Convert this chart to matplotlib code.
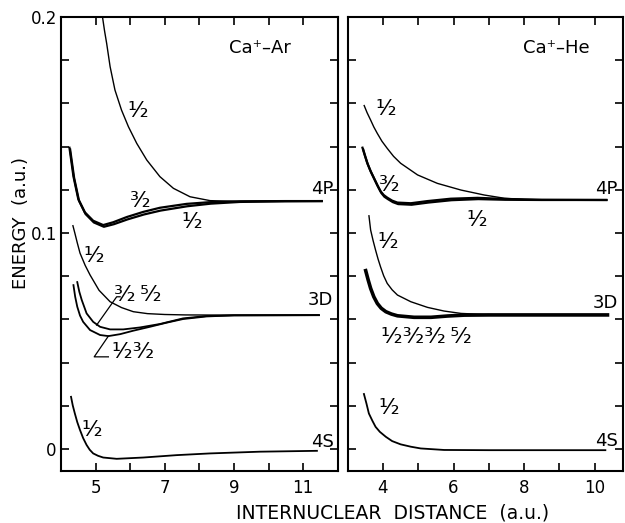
import matplotlib.pyplot as plt

# ---- Ca+ - Ar (left panel) ----
ar_4p_half_x = [5.2, 5.26, 5.32, 5.42, 5.56, 5.75, 5.95, 6.19, 6.48, 6.86, 7.25, 7.73, 8.31, 9.17, 10.5, 11.57]
ar_4p_half_y = [0.200, 0.1935, 0.1878, 0.177, 0.1662, 0.1569, 0.1492, 0.1415, 0.1338, 0.1261, 0.1207, 0.1168, 0.115, 0.1146, 0.1147, 0.1148]

ar_4p_a_x = [4.24, 4.36, 4.5, 4.69, 4.93, 5.22, 5.51, 5.9, 6.38, 6.86, 7.63, 8.31, 9.17, 10.5, 11.57]
ar_4p_a_y = [0.1400, 0.1262, 0.1157, 0.1096, 0.1057, 0.1037, 0.1050, 0.1074, 0.1098, 0.1117, 0.1135, 0.1143, 0.1147, 0.1148, 0.1148]
ar_4p_b_x = [4.26, 4.38, 4.52, 4.71, 4.95, 5.24, 5.53, 5.92, 6.4, 6.88, 7.65, 8.33, 9.17, 10.5, 11.57]
ar_4p_b_y = [0.1392, 0.1255, 0.1150, 0.1088, 0.1049, 0.1029, 0.1041, 0.1063, 0.1086, 0.1104, 0.1124, 0.1136, 0.1144, 0.1147, 0.1148]

ar_3d_half_x = [4.34, 4.4, 4.47, 4.55, 4.7, 4.84, 5.1, 5.42, 5.75, 6.09, 6.5, 7.0, 7.6, 9.0, 11.46]
ar_3d_half_y = [0.1037, 0.1, 0.0955, 0.0907, 0.085, 0.0806, 0.0735, 0.0682, 0.0655, 0.0636, 0.0627, 0.0623, 0.0621, 0.062, 0.062]

ar_3d_a_x = [4.47, 4.53, 4.6, 4.74, 4.93, 5.13, 5.42, 5.8, 6.28, 6.86, 7.53, 8.21, 9.0, 11.46]
ar_3d_a_y = [0.0773, 0.0728, 0.069, 0.0628, 0.0589, 0.0566, 0.0554, 0.0554, 0.0563, 0.0579, 0.0605, 0.0616, 0.0619, 0.062]
ar_3d_b_x = [4.36, 4.41, 4.47, 4.55, 4.64, 4.84, 5.13, 5.37, 5.71, 6.09, 6.57, 7.05, 7.53, 8.21, 9.0, 11.46]
ar_3d_b_y = [0.0759, 0.0705, 0.0659, 0.0618, 0.0589, 0.0551, 0.0528, 0.0523, 0.0532, 0.0548, 0.0566, 0.0585, 0.0602, 0.0614, 0.0619, 0.062]

ar_4s_x = [4.29, 4.34, 4.4, 4.47, 4.55, 4.64, 4.74, 4.83, 4.93, 5.07, 5.22, 5.61, 6.38, 7.34, 8.31, 9.75, 11.4]
ar_4s_y = [0.0242, 0.0202, 0.0165, 0.0125, 0.0088, 0.0051, 0.0019, -0.0003, -0.002, -0.0031, -0.0039, -0.0045, -0.0039, -0.0028, -0.002, -0.0012, -0.0008]

# ---- Ca+ - He (right panel) ----
he_4p_half_x = [3.46, 3.55, 3.65, 3.74, 3.84, 3.97, 4.12, 4.3, 4.5, 4.98, 5.54, 6.21, 6.87, 7.44, 8.0, 9.0, 10.36]
he_4p_half_y = [0.1593, 0.1557, 0.1523, 0.1491, 0.1461, 0.1425, 0.1392, 0.1355, 0.1323, 0.1269, 0.123, 0.1199, 0.1176, 0.1161, 0.1155, 0.1153, 0.1153]

he_4p_a_x = [3.41, 3.48, 3.55, 3.64, 3.74, 3.84, 3.93, 4.02, 4.12, 4.26, 4.41, 4.79, 5.26, 5.92, 6.68, 7.44, 8.5, 10.36]
he_4p_a_y = [0.1400, 0.1362, 0.1326, 0.1290, 0.1256, 0.1222, 0.1194, 0.1176, 0.1164, 0.1150, 0.1141, 0.1138, 0.1148, 0.1159, 0.1163, 0.1158, 0.1154, 0.1153]
he_4p_b_x = [3.43, 3.5, 3.57, 3.66, 3.76, 3.86, 3.95, 4.04, 4.14, 4.28, 4.43, 4.81, 5.28, 5.94, 6.7, 7.46, 8.5, 10.36]
he_4p_b_y = [0.1392, 0.1354, 0.1318, 0.1282, 0.1248, 0.1214, 0.1186, 0.1168, 0.1157, 0.1143, 0.1134, 0.1131, 0.1141, 0.1152, 0.1157, 0.1154, 0.1153, 0.1153]

he_3d_half_x = [3.6, 3.65, 3.72, 3.79, 3.86, 3.93, 4.02, 4.12, 4.26, 4.41, 4.79, 5.26, 5.73, 6.21, 6.87, 7.5, 10.36]
he_3d_half_y = [0.1083, 0.1014, 0.0965, 0.0921, 0.088, 0.0844, 0.0802, 0.0767, 0.0737, 0.0713, 0.0682, 0.0656, 0.0639, 0.0628, 0.0623, 0.0621, 0.0621]

he_3d_x = [3.51, 3.58, 3.65, 3.74, 3.84, 3.95, 4.08, 4.24, 4.41, 4.88, 5.36, 5.83, 6.3, 7.0, 10.36]
he_3d_y = [0.0826, 0.0783, 0.0744, 0.0705, 0.0674, 0.0652, 0.0636, 0.0625, 0.0617, 0.061, 0.061, 0.0616, 0.062, 0.0621, 0.0621]

he_4s_x = [3.46, 3.53, 3.6, 3.7, 3.79, 3.91, 4.08, 4.26, 4.5, 4.79, 5.07, 5.73, 7.0, 10.3]
he_4s_y = [0.0255, 0.0212, 0.0165, 0.0131, 0.0103, 0.008, 0.0057, 0.0037, 0.0022, 0.0011, 0.0003, -0.0004, -0.0005, -0.0005]

HALF = "\u00b9\u2044\u2082"
THREE = "\u00b3\u2044\u2082"
FIVE = "\u2075\u2044\u2082"

plt.rcParams['font.family'] = ['DejaVu Sans']

fig = plt.figure(figsize=(6.25, 5.23), dpi=100)
ax1 = fig.add_axes([0.0976, 0.1, 0.4427, 0.8675])
ax2 = fig.add_axes([0.5563, 0.1, 0.4405, 0.8675])

thin = dict(color='black', lw=1.0, solid_capstyle='butt')
thick = dict(color='black', lw=1.6, solid_capstyle='butt')

for ax in (ax1, ax2):
    ax.set_ylim(-0.01, 0.2)
    ax.set_yticks([0, 0.02, 0.04, 0.06, 0.08, 0.1, 0.12, 0.14, 0.16, 0.18, 0.2])
    ax.tick_params(direction='in', length=6, width=1.2, top=True, right=True,
                   labelsize=12, pad=6)
    for s in ax.spines.values():
        s.set_linewidth(1.5)

# left panel
ax1.set_xlim(4, 12)
ax1.set_xticks([5, 6, 7, 8, 9, 10, 11])
ax1.set_xticklabels(['5', '', '7', '', '9', '', '11'])
ax1.set_yticklabels(['0', '', '', '', '', '0.1', '', '', '', '', '0.2'])
ax1.tick_params(axis='y', pad=3)

ax1.plot(ar_4p_half_x, ar_4p_half_y, **thin)
ax1.plot(ar_4p_a_x, ar_4p_a_y, **thick)
ax1.plot(ar_4p_b_x, ar_4p_b_y, **thick)
ax1.plot(ar_3d_half_x, ar_3d_half_y, **thin)
ax1.plot(ar_3d_a_x, ar_3d_a_y, color='black', lw=1.3)
ax1.plot(ar_3d_b_x, ar_3d_b_y, color='black', lw=1.3)
ax1.plot(ar_4s_x, ar_4s_y, color='black', lw=1.3)
# leader lines
ax1.plot([5.03, 5.61, 5.71], [0.0574, 0.0705, 0.0705], color='black', lw=0.9)
ax1.plot([5.37, 4.96, 5.37], [0.0523, 0.0427, 0.0427], color='black', lw=0.9)

fs = 16
ax1.text(6.23, 0.1565, HALF, fontsize=fs, ha='center', va='center')
ax1.text(6.31, 0.1148, THREE, fontsize=fs, ha='center', va='center')
ax1.text(7.79, 0.105, HALF, fontsize=fs, ha='center', va='center')
ax1.text(4.95, 0.0894, HALF, fontsize=fs, ha='center', va='center')
ax1.text(6.23, 0.0713, THREE + "\u2009" + FIVE, fontsize=fs, ha='center', va='center')
ax1.text(6.08, 0.0449, HALF + THREE, fontsize=fs, ha='center', va='center')
ax1.text(4.9, 0.0088, HALF, fontsize=fs, ha='center', va='center')
ax1.text(11.88, 0.1204, '4P', fontsize=13, ha='right', va='center')
ax1.text(11.88, 0.069, '3D', fontsize=13, ha='right', va='center')
ax1.text(11.88, 0.0032, '4S', fontsize=13, ha='right', va='center')
ax1.text(9.75, 0.1856, 'Ca\u207a\u2013Ar', fontsize=13, ha='center', va='center')

# right panel
ax2.set_xlim(3, 10.8)
ax2.set_xticks([4, 5, 6, 7, 8, 9, 10])
ax2.set_xticklabels(['4', '', '6', '', '8', '', '10'])
ax2.set_yticklabels([])

ax2.plot(he_4p_half_x, he_4p_half_y, **thin)
ax2.plot(he_4p_a_x, he_4p_a_y, **thick)
ax2.plot(he_4p_b_x, he_4p_b_y, **thick)
ax2.plot(he_3d_half_x, he_3d_half_y, **thin)
ax2.plot(he_3d_x, he_3d_y, color='black', lw=2.6)
ax2.plot(he_4s_x, he_4s_y, color='black', lw=1.3)

ax2.text(4.09, 0.1574, HALF, fontsize=fs, ha='center', va='center')
ax2.text(4.2, 0.1222, THREE, fontsize=fs, ha='center', va='center')
ax2.text(6.67, 0.106, HALF, fontsize=fs, ha='center', va='center')
ax2.text(4.14, 0.0958, HALF, fontsize=fs, ha='center', va='center')
ax2.text(5.22, 0.0519, HALF + THREE + THREE + "\u2009" + FIVE, fontsize=fs,
         ha='center', va='center')
ax2.text(4.17, 0.019, HALF, fontsize=fs, ha='center', va='center')
ax2.text(10.65, 0.1204, '4P', fontsize=13, ha='right', va='center')
ax2.text(10.65, 0.0676, '3D', fontsize=13, ha='right', va='center')
ax2.text(10.65, 0.0037, '4S', fontsize=13, ha='right', va='center')
ax2.text(8.92, 0.1856, 'Ca\u207a\u2013He', fontsize=13, ha='center', va='center')

fig.text(393 / 625, 1 - 513 / 523, 'INTERNUCLEAR  DISTANCE  (a.u.)', fontsize=13.5,
         ha='center', va='center')
fig.text(21 / 625, 1 - 223 / 523, 'ENERGY  (a.u.)', fontsize=13, rotation=90,
         ha='center', va='center')

fig.savefig('out.png', dpi=100)
